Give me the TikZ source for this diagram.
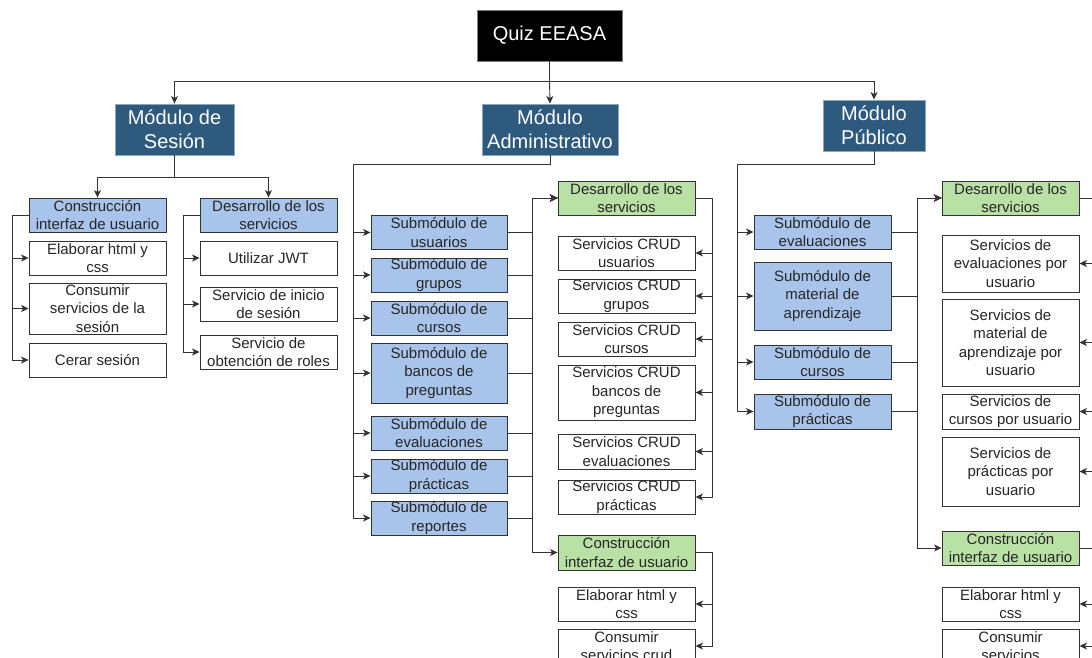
\documentclass[tikz,border=0pt]{standalone}
\usepackage{fontspec}
\setmainfont{Liberation Sans}
\usetikzlibrary{arrows.meta}
\definecolor{hdr}{HTML}{2E5A7D}
\definecolor{hdrline}{HTML}{8DA4BD}
\definecolor{lblue}{HTML}{A9C4EB}
\definecolor{lgreen}{HTML}{B9E0A5}
\tikzset{
  basebox/.style={rectangle, inner sep=0pt, align=center, line width=0.9pt,
    font=\fontsize{15}{18.5}\selectfont, text=black!85},
  rootbox/.style={basebox, fill=black, draw=gray, text=white, font=\fontsize{20}{24}\selectfont},
  hdrbox/.style={basebox, fill=hdr, draw=hdrline, text=white, font=\fontsize{20}{24}\selectfont},
  bluebox/.style={basebox, fill=lblue, draw=black!80},
  greenbox/.style={basebox, fill=lgreen, draw=black!80},
  whitebox/.style={basebox, fill=white, draw=black!80},
  conn/.style={draw=black!80, line width=0.9pt},
  arr/.style={conn, -{Stealth[length=7.5pt,width=7pt,inset=2pt]}},
}
\begin{document}
\begin{tikzpicture}[x=1pt,y=-1pt]
\path[use as bounding box, clip] (0,0) rectangle (1092,658);
\fill[white] (0,0) rectangle (1092,658);

% root and modules
\node[rootbox, minimum width=145pt, minimum height=51pt] (quiz) at (549.5,35.5) {Quiz EEASA};
\node[hdrbox, minimum width=119pt, minimum height=51pt] (ses) at (174.5,129.5) {Módulo de\\Sesión};
\node[hdrbox, minimum width=136pt, minimum height=51pt] (adm) at (550,129.5) {Módulo\\Administrativo};
\node[hdrbox, minimum width=102pt, minimum height=51pt] (pub) at (874,125.5) {Módulo\\Público};

\coordinate (top) at (549.5,81);
\draw[conn] (quiz.south) -- (top);
\draw[arr] (top) -| (ses.north);
\draw[arr] (top) -| (pub.north);
\draw[arr] (top) -- (adm.north);

% Sesion
\node[bluebox, minimum width=137pt, minimum height=34pt] (s1) at (97.5,215) {Construcción\\interfaz de usuario};
\node[bluebox, minimum width=137pt, minimum height=34pt] (s2) at (268.5,215) {Desarrollo de los\\servicios};
\coordinate (sesbus) at (174.5,177);
\draw[conn] (ses.south) -- (sesbus);
\draw[arr] (sesbus) -| (s1.north);
\draw[arr] (sesbus) -| (s2.north);

\node[whitebox, minimum width=137pt, minimum height=34pt] (s1a) at (97.5,258) {Elaborar html y\\css};
\node[whitebox, minimum width=137pt, minimum height=51pt] (s1b) at (97.5,308.5) {Consumir\\servicios de la\\sesión};
\node[whitebox, minimum width=137pt, minimum height=34pt] (s1c) at (97.5,360) {Cerar sesión};
\node[whitebox, minimum width=137pt, minimum height=34pt] (s2a) at (268.5,258) {Utilizar JWT};
\node[whitebox, minimum width=137pt, minimum height=34pt] (s2b) at (268.5,304) {Servicio de inicio\\de sesión};
\node[whitebox, minimum width=137pt, minimum height=34pt] (s2c) at (268.5,352) {Servicio de\\obtención de roles};
\coordinate (s1L) at (12,215);
\coordinate (s2L) at (183,215);
\foreach \c in {s1a,s1b,s1c}{\draw[arr] (s1.west) -- (s1L) |- (\c.west);}
\foreach \c in {s2a,s2b,s2c}{\draw[arr] (s2.west) -- (s2L) |- (\c.west);}

% Administrativo
\node[bluebox, minimum width=136pt, minimum height=34pt] (a1) at (439,232.5) {Submódulo de\\usuarios};
\node[bluebox, minimum width=136pt, minimum height=34pt] (a2) at (439,275) {Submódulo de\\grupos};
\node[bluebox, minimum width=136pt, minimum height=34pt] (a3) at (439,318) {Submódulo de\\cursos};
\node[bluebox, minimum width=136pt, minimum height=60pt] (a4) at (439,373) {Submódulo de\\bancos de\\preguntas};
\node[bluebox, minimum width=136pt, minimum height=34pt] (a5) at (439,433) {Submódulo de\\evaluaciones};
\node[bluebox, minimum width=136pt, minimum height=34pt] (a6) at (439,476) {Submódulo de\\prácticas};
\node[bluebox, minimum width=136pt, minimum height=34pt] (a7) at (439,518) {Submódulo de\\reportes};
\coordinate (aL) at (353,164);
\foreach \c in {a1,a2,a3,a4,a5,a6,a7}{\draw[arr] (adm.south) |- (aL) |- (\c.west);}

\node[greenbox, minimum width=137pt, minimum height=34pt] (ad) at (626.5,198) {Desarrollo de los\\servicios};
\node[greenbox, minimum width=137pt, minimum height=35pt] (ac) at (626.5,552.5) {Construcción\\interfaz de usuario};
\coordinate (abus) at (532,0);
\foreach \c in {a1,a2,a3,a4,a5,a6,a7}{\draw[arr] (\c.east) -- (\c.east -| abus) |- (ad.west);}
\draw[arr] (a7.east) -- (a7.east -| abus) |- (ac.west);

\node[whitebox, minimum width=137pt, minimum height=34pt] (ada) at (626.5,253) {Servicios CRUD\\usuarios};
\node[whitebox, minimum width=137pt, minimum height=34pt] (adb) at (626.5,296) {Servicios CRUD\\grupos};
\node[whitebox, minimum width=137pt, minimum height=34pt] (adc) at (626.5,339) {Servicios CRUD\\cursos};
\node[whitebox, minimum width=137pt, minimum height=55pt] (add) at (626.5,392.5) {Servicios CRUD\\bancos de\\preguntas};
\node[whitebox, minimum width=137pt, minimum height=35pt] (ade) at (626.5,451.5) {Servicios CRUD\\evaluaciones};
\node[whitebox, minimum width=137pt, minimum height=34pt] (adf) at (626.5,497) {Servicios CRUD\\prácticas};
\coordinate (adR) at (712,0);
\foreach \c in {ada,adb,adc,add,ade,adf}{\draw[arr] (ad.east) -- (ad.east -| adR) |- (\c.east);}

\node[whitebox, minimum width=137pt, minimum height=34pt] (aca) at (626.5,604) {Elaborar html y\\css};
\node[whitebox, minimum width=137pt, minimum height=34pt] (acb) at (626.5,646) {Consumir\\servicios crud};
\foreach \c in {aca,acb}{\draw[arr] (ac.east) -- (ac.east -| adR) |- (\c.east);}

% Publico
\node[bluebox, minimum width=137pt, minimum height=34pt] (p1) at (822.5,232) {Submódulo de\\evaluaciones};
\node[bluebox, minimum width=137pt, minimum height=68pt] (p2) at (822.5,296) {Submódulo de\\material de\\aprendizaje};
\node[bluebox, minimum width=137pt, minimum height=34pt] (p3) at (822.5,362) {Submódulo de\\cursos};
\node[bluebox, minimum width=137pt, minimum height=35pt] (p4) at (822.5,411.5) {Submódulo de\\prácticas};
\coordinate (pL) at (737,164);
\foreach \c in {p1,p2,p3,p4}{\draw[arr] (pub.south) |- (pL) |- (\c.west);}

\node[greenbox, minimum width=137pt, minimum height=34pt] (pd) at (1010.5,198) {Desarrollo de los\\servicios};
\node[greenbox, minimum width=137pt, minimum height=34pt] (pc) at (1010.5,548) {Construcción\\interfaz de usuario};
\coordinate (pbus) at (917,0);
\foreach \c in {p1,p2,p3,p4}{\draw[arr] (\c.east) -- (\c.east -| pbus) |- (pd.west);}
\draw[arr] (p4.east) -- (p4.east -| pbus) |- (pc.west);

\node[whitebox, minimum width=137pt, minimum height=57pt] (pda) at (1010.5,263.5) {Servicios de\\evaluaciones por\\usuario};
\node[whitebox, minimum width=137pt, minimum height=87pt] (pdb) at (1010.5,342.5) {Servicios de\\material de\\aprendizaje por\\usuario};
\node[whitebox, minimum width=137pt, minimum height=35pt] (pdc) at (1010.5,411.5) {Servicios de\\cursos por usuario};
\node[whitebox, minimum width=137pt, minimum height=69pt] (pdd) at (1010.5,471.5) {Servicios de\\prácticas por\\usuario};
\coordinate (pdR) at (1104,0);
\foreach \c in {pda,pdb,pdc,pdd}{\draw[arr] (pd.east) -- (pd.east -| pdR) |- (\c.east);}

\node[whitebox, minimum width=137pt, minimum height=34pt] (pca) at (1010.5,604) {Elaborar html y\\css};
\node[whitebox, minimum width=137pt, minimum height=34pt] (pcb) at (1010.5,646) {Consumir\\servicios};
\foreach \c in {pca,pcb}{\draw[arr] (pc.east) -- (pc.east -| pdR) |- (\c.east);}
\end{tikzpicture}
\end{document}
